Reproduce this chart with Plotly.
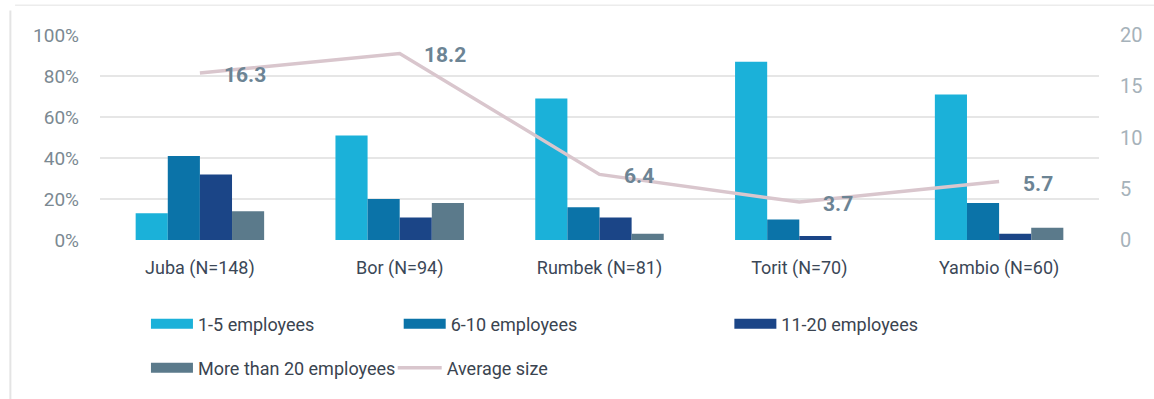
import plotly.graph_objects as go

# Regions and sample sizes
regions = ["Juba (N=148)", "Bor (N=94)", "Rumbek (N=81)", "Torit (N=70)", "Yambio (N=60)"]

# Share of businesses by number of employees (%)
emp_1_5 = [13, 51, 69, 87, 71]
emp_6_10 = [41, 20, 16, 10, 18]
emp_11_20 = [32, 11, 11, 2, 3]
emp_20_plus = [14, 18, 3, 0, 6]

# Average number of employees
avg_size = [16.3, 18.2, 6.4, 3.7, 5.7]

# Axis ticks
pct_ticks = [0, 20, 40, 60, 80, 100]
pct_labels = ["0%", "20%", "40%", "60%", "80%", "100%"]
size_ticks = [0, 5, 10, 15, 20]

series_names = ["1-5 employees", "6-10 employees", "11-20 employees", "More than 20 employees"]
series_values = [emp_1_5, emp_6_10, emp_11_20, emp_20_plus]
series_colors = ["#1bb1d9", "#0b73a8", "#1b4587", "#5b7a8b"]
line_color = "#d9c6cd"

FONT = "Roboto, 'Open Sans', sans-serif"

fig = go.Figure()

for name, vals, col in zip(series_names, series_values, series_colors):
    fig.add_trace(go.Bar(
        x=regions, y=vals, name=name, marker=dict(color=col, line=dict(width=0)),
        showlegend=False, hoverinfo="x+y+name",
    ))

fig.add_trace(go.Scatter(
    x=regions, y=avg_size, name="Average size", yaxis="y2", mode="lines",
    line=dict(color=line_color, width=3.5), showlegend=False,
))

# Value labels for the average size line
for reg, v in zip(regions, avg_size):
    fig.add_annotation(
        x=reg, y=v, xref="x", yref="y2", text=f"<b>{v:.1f}</b>", showarrow=False,
        xanchor="left", yanchor="middle", xshift=22, yshift=-2,
        font=dict(family=FONT, size=21, color="#6c8494"),
    )

# Legend entries laid out in two rows
legend_items = [
    ("1-5 employees", series_colors[0], 13, "legend", 0.046, -0.41),
    ("6-10 employees", series_colors[1], 13, "legend2", 0.299, -0.41),
    ("11-20 employees", series_colors[2], 13, "legend3", 0.630, -0.41),
    ("More than 20 employees", series_colors[3], 13, "legend4", 0.046, -0.625),
    ("Average size", line_color, 3.5, "legend5", 0.293, -0.625),
]
legend_layout = {}
for name, col, w, leg, lx, ly in legend_items:
    fig.add_trace(go.Scatter(
        x=[None], y=[None], mode="lines", name=name, legend=leg,
        line=dict(color=col, width=w), showlegend=True, hoverinfo="skip",
    ))
    legend_layout[leg] = dict(
        x=lx, y=ly, xanchor="left", yanchor="middle", orientation="h",
        itemwidth=44 if leg == "legend5" else 42, bgcolor="rgba(0,0,0,0)", borderwidth=0,
        font=dict(family=FONT, size=18, color="#3a4450"),
        itemclick=False, itemdoubleclick=False,
    )

fig.update_layout(
    width=1154, height=399,
    margin=dict(l=100, r=51, t=35, b=158),
    paper_bgcolor="white", plot_bgcolor="white",
    barmode="group", bargap=0.357, bargroupgap=0,
    font=dict(family=FONT),
    xaxis=dict(
        type="category", showgrid=False, showline=False, zeroline=False, ticks="",
        tickfont=dict(family=FONT, size=18, color="#3b4757"), ticklabelstandoff=15,
    ),
    yaxis=dict(
        range=[0, 100], tickmode="array", tickvals=pct_ticks, ticktext=pct_labels,
        showgrid=True, gridcolor="#e6e6e6", gridwidth=1.5, zeroline=False, showline=False,
        ticks="", tickfont=dict(family=FONT, size=19, color="#7b8992"), ticklabelstandoff=20,
    ),
    yaxis2=dict(
        range=[0, 20], tickmode="array", tickvals=size_ticks, overlaying="y", side="right",
        showgrid=False, zeroline=False, showline=False, ticks="",
        tickfont=dict(family=FONT, size=20, color="#a6b2ba"), ticklabelstandoff=20,
    ),
    shapes=[
        dict(type="line", xref="paper", yref="paper", x0=-0.0897, x1=-0.0897, y0=1.12, y1=-0.78,
             line=dict(color="#e4e4e4", width=2)),
        dict(type="line", xref="paper", yref="paper", x0=-0.085, x1=1.06, y0=1.145, y1=1.145,
             line=dict(color="#ececec", width=1.5)),
    ],
    **legend_layout,
)

fig.write_html("out.html")
